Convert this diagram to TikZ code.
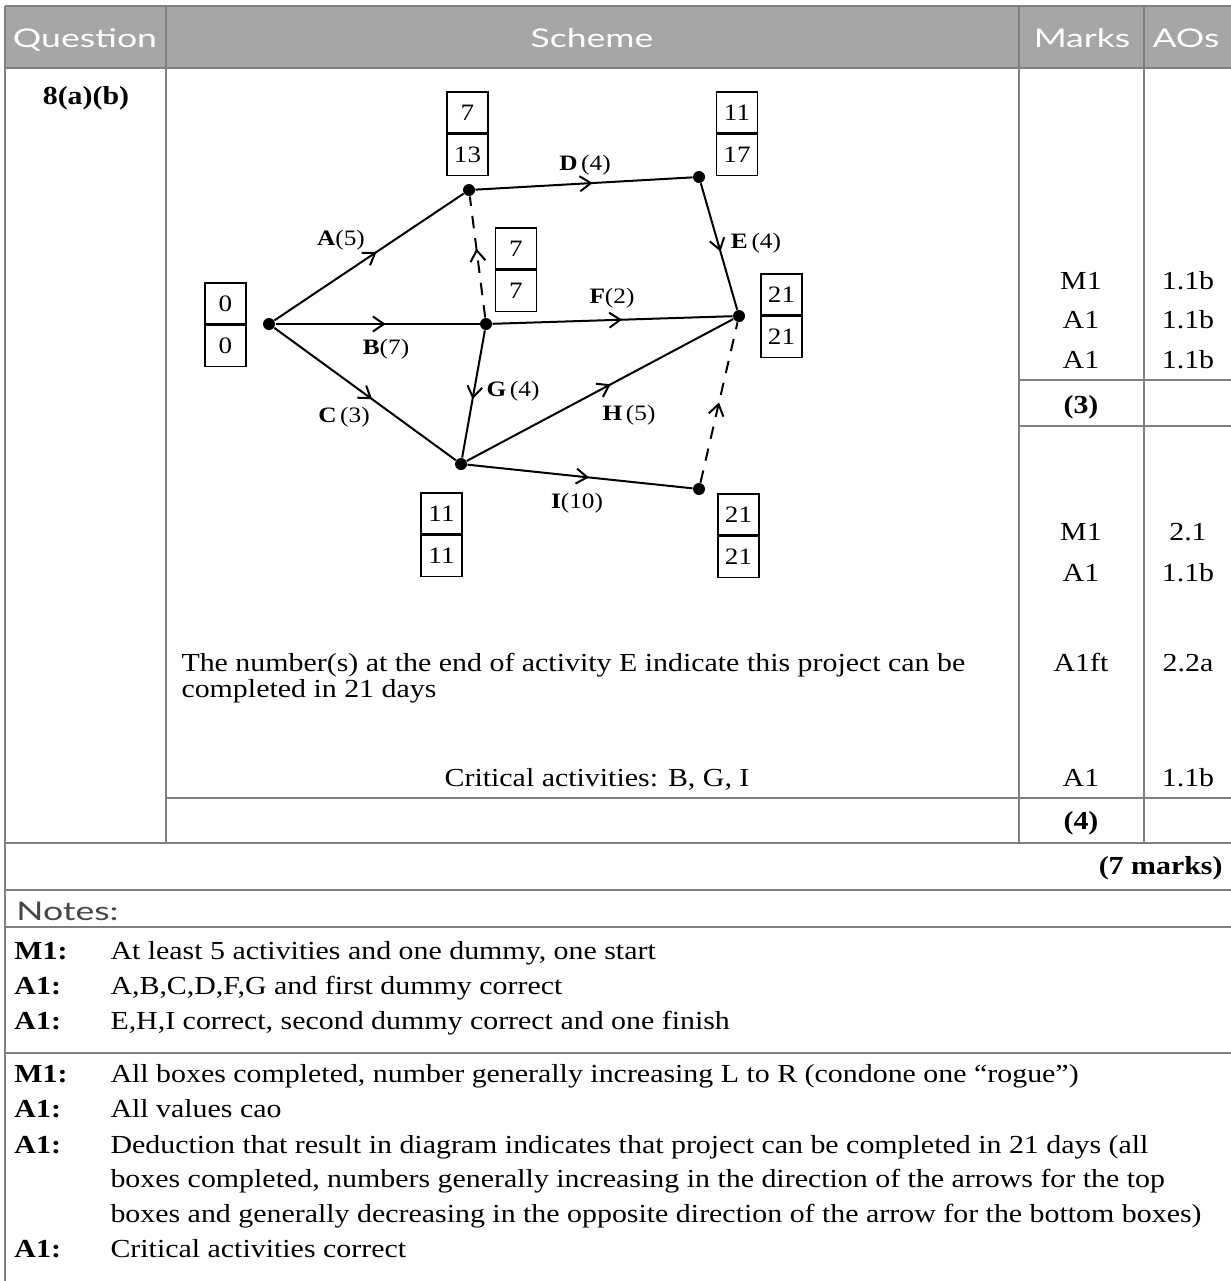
\documentclass[tikz,border=0pt]{standalone}
\usepackage{fontspec}
\setmainfont{Liberation Serif}[FakeStretch=1.15]
\newfontfamily\hdrfont{Lato}[FakeStretch=1.38]
\usepackage{tikz}
\usetikzlibrary{arrows.meta,positioning,decorations.markings}
\definecolor{hdrGrey}{RGB}{166,166,166}
\definecolor{ruleGrey}{RGB}{128,128,128}
\definecolor{noteGrey}{RGB}{70,70,70}

\begin{document}
\begin{tikzpicture}[x=0.4pt, y=-0.4pt,
  font=\fontsize{10.4}{12.5}\selectfont,
  txt/.style={inner sep=0pt, text height=6.9pt, text depth=0pt},
  hdr/.style={inner sep=0pt, text height=7.4pt, text depth=0pt, text=white, font=\hdrfont\fontsize{10.3}{12}\selectfont},
  rule/.style={draw=ruleGrey, line width=1pt},
  vtx/.style={circle, fill, inner sep=0pt, minimum size=4.8pt},
  tcell/.style={draw, line width=0.6pt, minimum width=16.4pt, minimum height=16.4pt, inner sep=0pt, font=\fontsize{9.4}{9.4}\selectfont},
  lbl/.style={inner sep=0pt, text height=5.8pt, text depth=0pt, font=\fontsize{8.8}{9}\selectfont},
  act/.style={line width=0.8pt, decoration={markings, mark=at position #1 with {\arrow{Straight Barb[length=4.4pt,width=6pt]}}}, postaction={decorate}},
  act/.default=0.54,
  dummy/.style={act=#1, dash pattern=on 5pt off 4pt},
  dummy/.default=0.5]
\useasboundingbox (0,0) rectangle (1231,1281);

% table frame
\fill[hdrGrey] (5,6) rectangle (1231,68);
\draw[rule] (5,6) -- (1231,6);
\draw[rule] (5,6) -- (5,1281);
\draw[rule] (166,6) -- (166,843);
\draw[rule] (1019,6) -- (1019,843);
\draw[rule] (1144,6) -- (1144,843);
\draw[rule] (5,68) -- (1231,68);
\draw[rule] (1019,380) -- (1231,380);
\draw[rule] (1019,426) -- (1231,426);
\draw[rule] (166,798) -- (1231,798);
\draw[rule] (5,843) -- (1231,843);
\draw[rule] (5,890) -- (1231,890);
\draw[rule] (5,927) -- (1231,927);
\draw[rule] (5,1053) -- (1231,1053);

% header
\node[hdr] (hq) at (85,38) {Question};
\node[hdr] (hs) at (592,38) {Scheme};
\node[hdr] (hm) at (1082,38) {Marks};
\node[hdr] (ha) at (1186,38) {AOs};
\node[txt] (qno) at (86,96) {\textbf{8(a)(b)}};

% network
\node[vtx] (v1) at (269,324) {};
\node[vtx] (v2) at (469,190) {};
\node[vtx] (v3) at (486,324) {};
\node[vtx] (v4) at (699,177) {};
\node[vtx] (v5) at (461,464) {};
\node[vtx] (v6) at (739,316) {};
\node[vtx] (v7) at (699,489) {};

\draw[act] (v1) -- (v2);
\draw[act] (v1) -- (v3);
\draw[act] (v1) -- (v5);
\draw[act] (v2) -- (v4);
\draw[act] (v4) -- (v6);
\draw[act] (v3) -- (v6);
\draw[act] (v3) -- (v5);
\draw[act] (v5) -- (v6);
\draw[act] (v5) -- (v7);
\draw[dummy=0.57] (v3) -- (v2);
\draw[dummy=0.5] (v7) -- (v6);

\node[lbl] (la) at (341,238) {\textbf{A}(5)};
\node[lbl] (lb) at (386,347) {\textbf{B}(7)};
\node[lbl] (lc) at (344,415) {\textbf{C}\,(3)};
\node[lbl] (ld) at (585,163) {\textbf{D}\,(4)};
\node[lbl] (le) at (756,241) {\textbf{E}\,(4)};
\node[lbl] (lf) at (612,296) {\textbf{F}(2)};
\node[lbl] (lg) at (513,389) {\textbf{G}\,(4)};
\node[lbl] (lh) at (629,413) {\textbf{H}\,(5)};
\node[lbl] (li) at (577,501) {\textbf{I}(10)};

% early / late boxes
\node[tcell] (b1e) at (225.5,303.5) {0};
\node[tcell, below=0pt of b1e] (b1l) {0};
\node[tcell] (b2e) at (467.5,112.5) {7};
\node[tcell, below=0pt of b2e] (b2l) {13};
\node[tcell] (b3e) at (516,248.5) {7};
\node[tcell, below=0pt of b3e] (b3l) {7};
\node[tcell] (b4e) at (737,112.5) {11};
\node[tcell, below=0pt of b4e] (b4l) {17};
\node[tcell] (b5e) at (441.5,513.5) {11};
\node[tcell, below=0pt of b5e] (b5l) {11};
\node[tcell] (b6e) at (781.5,294.5) {21};
\node[tcell, below=0pt of b6e] (b6l) {21};
\node[tcell] (b7e) at (738.5,514.5) {21};
\node[tcell, below=0pt of b7e] (b7l) {21};

% scheme text
\node[txt, anchor=west] (s1) at (181,663) {The number(s) at the end of activity E indicate this project can be};
\node[txt, anchor=west] (s2) at (181,689) {completed in 21 days};
\node[txt] (s3) at (597,778) {Critical activities: B, G, I};

% marks and AOs
\node[txt] (m1) at (1081,281) {M1};
\node[txt] (m2) at (1081,320) {A1};
\node[txt] (m3) at (1081,360) {A1};
\node[txt] (m4) at (1081,405) {\textbf{(3)}};
\node[txt] (m5) at (1081,532) {M1};
\node[txt] (m6) at (1081,573) {A1};
\node[txt] (m7) at (1081,663) {A1ft};
\node[txt] (m8) at (1081,778) {A1};
\node[txt] (m9) at (1081,821) {\textbf{(4)}};
\node[txt] (a1) at (1188,281) {1.1b};
\node[txt] (a2) at (1188,320) {1.1b};
\node[txt] (a3) at (1188,360) {1.1b};
\node[txt] (a5) at (1188,532) {2.1};
\node[txt] (a6) at (1188,573) {1.1b};
\node[txt] (a7) at (1188,663) {2.2a};
\node[txt] (a8) at (1188,778) {1.1b};
\node[txt, anchor=east] (tot) at (1223,866) {\textbf{(7 marks)}};

% notes
\node[hdr, text=noteGrey, anchor=west] (nh) at (16,911) {Notes:};
\node[txt, anchor=west] (n1k) at (14,951) {\textbf{M1:}};
\node[txt, anchor=west] (n1) at (110,951) {At least 5 activities and one dummy, one start};
\node[txt, anchor=west] (n2k) at (14,986) {\textbf{A1:}};
\node[txt, anchor=west] (n2) at (110,986) {A,B,C,D,F,G and first dummy correct};
\node[txt, anchor=west] (n3k) at (14,1021) {\textbf{A1:}};
\node[txt, anchor=west] (n3) at (110,1021) {E,H,I correct, second dummy correct and one finish};
\node[txt, anchor=west] (n4k) at (14,1074) {\textbf{M1:}};
\node[txt, anchor=west] (n4) at (110,1074) {All boxes completed, number generally increasing L to R (condone one “rogue”)};
\node[txt, anchor=west] (n5k) at (14,1109) {\textbf{A1:}};
\node[txt, anchor=west] (n5) at (110,1109) {All values cao};
\node[txt, anchor=west] (n6k) at (14,1145) {\textbf{A1:}};
\node[txt, anchor=west] (n6) at (110,1145) {Deduction that result in diagram indicates that project can be completed in 21 days (all};
\node[txt, anchor=west] (n6b) at (110,1179) {boxes completed, numbers generally increasing in the direction of the arrows for the top};
\node[txt, anchor=west] (n6c) at (110,1214) {boxes and generally decreasing in the opposite direction of the arrow for the bottom boxes)};
\node[txt, anchor=west] (n7k) at (14,1249) {\textbf{A1:}};
\node[txt, anchor=west] (n7) at (110,1249) {Critical activities correct};
\end{tikzpicture}
\end{document}
